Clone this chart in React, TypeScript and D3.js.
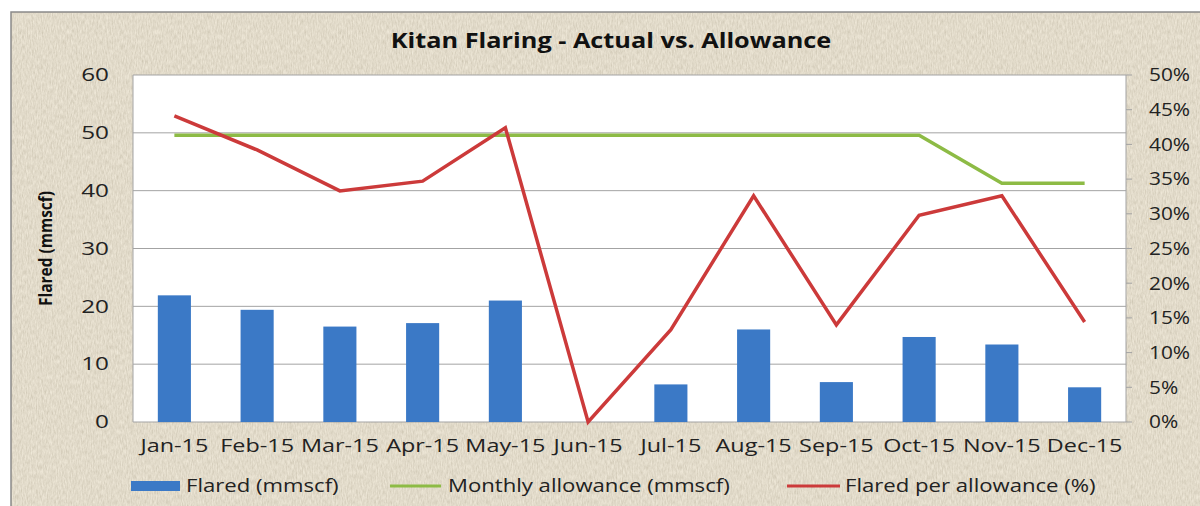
import React from "react";
import * as d3 from "d3";

// monthly data
const months = ["Jan-15", "Feb-15", "Mar-15", "Apr-15", "May-15", "Jun-15", "Jul-15", "Aug-15", "Sep-15", "Oct-15", "Nov-15", "Dec-15"];
const flared = [21.9, 19.4, 16.5, 17.1, 21.0, 0, 6.5, 16.0, 6.9, 14.7, 13.4, 6.0];
const allowance = [49.6, 49.6, 49.6, 49.6, 49.6, 49.6, 49.6, 49.6, 49.6, 49.6, 41.3, 41.3];
const flaredPct = [0.441, 0.392, 0.333, 0.347, 0.424, 0, 0.133, 0.326, 0.140, 0.298, 0.326, 0.144];
const leftTicks = [0, 10, 20, 30, 40, 50, 60];
const rightTicks = [0, 0.05, 0.1, 0.15, 0.2, 0.25, 0.3, 0.35, 0.4, 0.45, 0.5];

const W = 1200;
const H = 506;
const margin = { top: 75, right: 74, bottom: 84, left: 133 };
const BLUE = "#3b79c6";
const GREEN = "#8dbb45";
const RED = "#cc3a3a";
const FONT = "'Open Sans', Lato, sans-serif";

export default function App() {
  const x = d3
    .scaleBand()
    .domain(months)
    .range([margin.left, W - margin.right])
    .paddingInner(0.6)
    .paddingOuter(0.3);
  const yL = d3.scaleLinear().domain([0, 60]).range([H - margin.bottom, margin.top]);
  const yR = d3.scaleLinear().domain([0, 0.5]).range([H - margin.bottom, margin.top]);
  const cx = (m: string) => (x(m) as number) + x.bandwidth() / 2;

  const allowLine = d3
    .line<number>()
    .x((_, i) => cx(months[i]))
    .y((d) => yL(d));
  const pctLine = d3
    .line<number>()
    .x((_, i) => cx(months[i]))
    .y((d) => yR(d));

  const plotL = margin.left;
  const plotR = W - margin.right;
  const plotB = H - margin.bottom;

  // the original picture is stretched sideways, so the text is wider than normal
  const at = (px: number, py: number, s: number) => `translate(${px},${py}) scale(${s},1)`;

  const legend = [
    { label: "Flared (mmscf)", color: BLUE, bar: true, x0: 131, x1: 180, tx: 186 },
    { label: "Monthly allowance (mmscf)", color: GREEN, bar: false, x0: 390, x1: 441, tx: 448 },
    { label: "Flared per allowance (%)", color: RED, bar: false, x0: 787, x1: 840, tx: 845 },
  ];

  return (
    <svg width={W} height={H} style={{ position: "absolute", left: 0, top: 0 }} fontFamily={FONT}>
      <defs>
        <filter id="linen" x="0" y="0" width="100%" height="100%">
          <feTurbulence type="fractalNoise" baseFrequency="0.8 0.2" numOctaves="3" seed="5" result="n" />
          <feColorMatrix
            in="n"
            type="matrix"
            values="0.6 0 0 0 0.5  0.6 0 0 0 0.46  0.6 0 0 0 0.36  0 0 0 0 0.5"
          />
        </filter>
      </defs>
      <rect x={0} y={0} width={W} height={H} fill="#fff" />
      <rect x={11} y={12} width={W} height={H} fill="#dcd3bf" stroke="#8a8a8a" strokeWidth={1.5} />
      <rect x={12} y={13} width={W} height={H} filter="url(#linen)" />

      <text transform={at(611, 48, 1.15)} textAnchor="middle" fontSize={22} fontWeight="bold" fill="#111">
        Kitan Flaring - Actual vs. Allowance
      </text>

      {/* plot area */}
      <rect x={plotL} y={margin.top} width={plotR - plotL} height={plotB - margin.top} fill="#fff" />
      {leftTicks.map((t) => (
        <line key={t} x1={plotL} x2={plotR} y1={yL(t)} y2={yL(t)} stroke="#a3a3a3" strokeWidth={1} />
      ))}
      <line x1={plotL} x2={plotL} y1={margin.top} y2={plotB} stroke="#a3a3a3" />
      <line x1={plotR} x2={plotR} y1={margin.top} y2={plotB} stroke="#a3a3a3" />

      {flared.map((v, i) => (
        <rect
          key={months[i]}
          x={x(months[i])}
          y={yL(v)}
          width={x.bandwidth()}
          height={plotB - yL(v)}
          fill={BLUE}
        />
      ))}
      <path d={allowLine(allowance) || ""} fill="none" stroke={GREEN} strokeWidth={3.5} />
      <path d={pctLine(flaredPct) || ""} fill="none" stroke={RED} strokeWidth={3.5} strokeLinejoin="miter" />

      {/* left axis */}
      {leftTicks.map((t) => (
        <text key={t} transform={at(109, yL(t), 1.35)} dy="0.35em" textAnchor="end" fontSize={18} fill="#222">
          {t}
        </text>
      ))}
      <text
        transform={`translate(52,${(margin.top + plotB) / 2}) rotate(-90)`}
        textAnchor="middle"
        fontSize={17}
        fontWeight="bold"
        textLength={115}
        lengthAdjust="spacingAndGlyphs"
        fill="#111"
      >
        Flared (mmscf)
      </text>

      {/* right axis */}
      {rightTicks.map((t) => (
        <g key={t}>
          <line x1={plotR} x2={plotR + 6} y1={yR(t)} y2={yR(t)} stroke="#a3a3a3" />
          <text transform={at(1149, yR(t), 1.16)} dy="0.35em" fontSize={18} fill="#222">
            {d3.format(".0%")(t)}
          </text>
        </g>
      ))}

      {/* x axis labels */}
      {months.map((m) => (
        <text key={m} transform={at(cx(m), 452, 1.3)} textAnchor="middle" fontSize={18} fill="#222">
          {m}
        </text>
      ))}

      {/* legend */}
      {legend.map((d) => (
        <g key={d.label}>
          {d.bar ? (
            <rect x={d.x0} y={481} width={d.x1 - d.x0} height={10} fill={d.color} />
          ) : (
            <line x1={d.x0} x2={d.x1} y1={486} y2={486} stroke={d.color} strokeWidth={3} />
          )}
          <text transform={at(d.tx, 492, 1.23)} fontSize={18} fill="#222">
            {d.label}
          </text>
        </g>
      ))}
    </svg>
  );
}
